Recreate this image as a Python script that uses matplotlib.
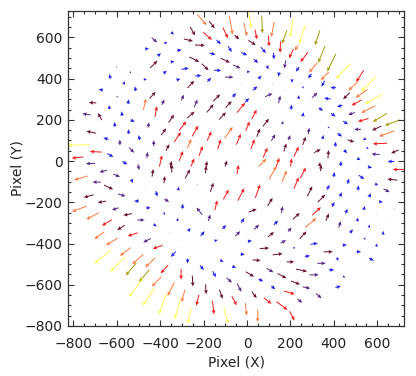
import numpy as np
import matplotlib
matplotlib.use('Agg')
import matplotlib.pyplot as plt
from matplotlib.ticker import MultipleLocator

# arrow centres (pixels), displacement (pixels) and colour class
# colour class: 0 blue, 1 purple, 2 maroon, 3 red, 4 orange, 5 yellow, 6 olive
x = [-343, -427, -374, -461, -312, -404, -430, -343, -377, -600, -538, -632, -469, -566, -515, -674, -435, -472, -597, -547,
     -387, -297, -712, -635, -420, -349, -740, -678, -577, -527, -454, -610, -384, -320, -718, -546, -497, -650, -430, -586,
     -366, -777, -532, -630, -460, -304, -697, -398, -781, -351, -721, -563,
     -208, -162, -74, -251, -100, -182, -8, 13, 69, 41, 118, 205, -47, -270, -131, 23, 100, 172, 153, -217,
     -79, 75, -13, -159, 203, 123, -243, -100, 41, -193, -285, -47, 95, 175, -136, 7, 146, -225, -316, -174,
     -82, -28, 60, 118, 207, -259, 37, 175, -236, -140, -59, 100, 149, 0, -170, -85, -28, 33, 87, 164,
     -259, -113, -297, -239, -174, -85, 3, 52, 195, -266, -213, -128, -39, 26, 84, 121, 175, -251, -187, -97,
     -5, 72, 141, 203,
     254, 227, 324, 263, 343, 389, 304, 232, 443, 358, 289, 350, 520, 397, 489, 558, 258, 312, 370, 458,
     527, 581, 238, 204, 289, 340, 427, 504, 558, 481, 258, 397, 535, 612, 669, 454, 377, 284, 509, 597,
     643, 350, 427, 478, 540, 612, 263, 407, 324, 374, 454, 515, 555, 592, 681, 227, 663, 335, 432,
     -500, -435, -347, -766, -663, -601, -693, -530, -381, -638, -469, -417, -730, -669, -577, -509, -370, -454, -773, -607,
     -712, -550, -489, -423, -381, -646, -581, -527, -358, -681, -461, -623, -412, -340, -666, -561, -504, -597, -447, -381,
     -535, -474, -304, -417, -351, -512, -454, -389, -320,
     -274, -190, -43, 118, 172, -316, -228, -162, -97, -28, 49, -143, -220, -297, 106, 26, 161, -320, -174, -20,
     44, 133, -266, -205, -105, -43, 110, 167, -143, 13, -300, 80, 141, -20, 44, -274, -116, -208, -59, 106,
     13, 161, -151, -82, 64, -251, -36, 121, -190, -120, 33, 195, -294, -228, -59, 95, 161, -156, -5, 49,
     -266, -97,
     227, 258, 340, 566, 697, 669, 527, 597, 643, 466, 401, 512, 289, 374, 432, 566, 617, 343, 681, 397,
     320, 458, 540, 227, 294, 370, 509, 597, 427, 563, 658, 197, 258, 481, 627, 309, 450, 543, 597, 217,
     374, 515, 278, 417, 573, 200, 343, 251, 389, 309, 447, 350, 223, 274, 420, 330, 243, 207]
y = [619, 587, 574, 545, 538, 517, 469, 482, 432, 456, 432, 411, 396, 380, 351, 346, 320, 275, 312, 288,
     286, 308, 283, 262, 240, 206, 227, 216, 230, 195, 175, 178, 143, 117, 140, 143, 114, 109, 87, 91,
     66, 78, 53, 28, 30, 25, 45, 1, 17, -15, -12, -9,
     685, 661, 658, 630, 622, 606, 638, 685, 662, 614, 638, 645, 601, 587, 577, 574, 582, 601, 553, 562,
     543, 538, 520, 520, 520, 509, 493, 488, 485, 456, 448, 458, 453, 469, 440, 433, 420, 414, 396, 395,
     407, 378, 407, 372, 388, 372, 353, 343, 280, 307, 320, 320, 299, 295, 256, 275, 259, 227, 187, 187,
     224, 219, 170, 146, 122, 138, 170, 138, 114, 85, 49, 82, 106, 82, 41, 114, 66, -7, -15, -12,
     0, -7, -7, -7,
     614, 549, 598, 504, 517, 477, 453, 445, 436, 412, 412, 375, 412, 356, 364, 372, 359, 320, 303, 316,
     327, 299, 311, 262, 283, 251, 267, 283, 251, 230, 227, 224, 199, 211, 186, 186, 162, 146, 154, 159,
     133, 117, 127, 98, 106, 85, 98, 82, 49, 33, 46, 9, 62, 33, 46, 46, -2, -15, -12,
     -30, -57, -36, -82, -49, -70, -102, -98, -90, -127, -143, -159, -170, -198, -165, -194, -191, -227, -232, -232,
     -267, -259, -286, -312, -256, -299, -323, -356, -348, -361, -385, -391, -417, -452, -465, -440, -477, -501, -493, -525,
     -525, -557, -549, -585, -622, -614, -659, -694, -719,
     -62, -41, -41, -57, -73, -133, -114, -127, -162, -162, -146, -214, -243, -219, -198, -240, -235, -283, -275, -288,
     -320, -299, -332, -352, -320, -352, -356, -391, -385, -388, -385, -423, -452, -452, -481, -485, -485, -517, -514, -530,
     -549, -557, -549, -578, -578, -582, -614, -614, -622, -646, -649, -638, -654, -675, -678, -678, -702, -711, -719, -751,
     -751, -751,
     -106, -57, -33, -30, -41, -90, -78, -114, -143, -98, -65, -130, -146, -127, -162, -165, -198, -181, -231, -210,
     -243, -243, -227, -267, -299, -272, -283, -262, -307, -315, -294, -332, -359, -340, -348, -401, -407, -375, -407, -420,
     -440, -440, -461, -477, -477, -489, -496, -530, -528, -552, -562, -590, -590, -614, -610, -654, -678, -751]
u = [12, 25, 14, 18, 22, 15, 34, 18, 15, 6, 0, -5, 15, 6, -5, -20, 28, 12, 8, 3,
     12, 12, -34, -3, 9, 25, -38, -17, -3, 20, 5, -3, 22, 31, -45, -2, -5, -25, 0, 0,
     15, -100, 23, 28, 3, 18, -55, 12, -54, 6, -43, 23,
     42, 25, 15, 23, 23, 40, 15, 12, 3, 9, -14, -15, 22, 42, 20, 34, 3, -22, -2, 46,
     17, 23, 28, 28, -20, 3, 46, 42, 20, 31, 34, 34, 6, -8, 34, 15, -5, 29, 18, 18,
     38, 3, 14, 3, 0, 31, 22, 3, 15, 32, 15, 34, 9, 20, 31, 28, 38, 22, 28, 6,
     34, 31, 34, 28, 20, 37, 18, 15, 8, 18, 18, 15, 20, 18, 20, 18, 12, 15, 6, 9,
     2, 34, 15, 5,
     -28, -18, -23, -35, -31, -40, -38, -15, -69, -38, -15, -15, -35, -26, -46, -66, 5, 25, -31, -31,
     -54, -77, 3, 5, 3, 20, -26, -46, -65, -31, 3, 22, -49, -66, -69, 23, 8, 5, -31, -43,
     -71, 5, 22, 31, -15, -66, 14, 3, 31, 3, 15, 15, 10, -38, -35, 22, -31, 3, 3,
     6, 6, 0, -62, -35, 31, -38, 6, 5, 42, 2, 8, -46, -38, 34, -23, 22, 20, -68, -31,
     -58, -40, 34, 14, 5, -46, -35, -46, 3, -46, -35, -54, -46, -23, -77, -51, -52, -66, -46, -35,
     -49, -48, 0, -45, -31, -65, -54, -35, -28,
     23, 5, 8, 35, 22, 3, 3, 14, 25, 30, 22, 11, -26, 3, 23, 37, 6, 3, 8, 15,
     23, 20, 11, 18, 18, 23, 28, 25, 15, 20, 3, 43, 46, 20, 37, 0, 15, 18, 18, 31,
     38, 42, 15, 25, 22, 3, 20, 18, 3, 15, 22, 50, -15, -12, 23, 35, 51, 8, 6, 0,
     -15, 20,
     22, 26, 3, 20, -51, -46, 26, 15, 28, 6, 5, 3, 22, 12, 11, 8, 18, 34, 3, 11,
     40, 9, 5, 31, 51, 14, 3, 2, 9, 3, 2, 15, 31, 15, 3, 34, 20, 8, 3, 8,
     42, 20, 25, 6, 23, 35, 38, 51, 25, 42, 10, 2, 42, 35, 25, 26, 23, 23]
v = [-13, -23, 6, 3, 3, 13, 35, 3, 13, 0, 10, 23, 0, 16, 23, 5, 32, 56, 3, 23,
     26, 28, 2, 19, 52, 39, 6, 35, 23, -10, 26, 23, 32, 48, 10, 23, 24, 8, 29, 26,
     32, -3, -26, -16, 29, 48, 3, 55, -6, 32, -2, -16,
     -52, -35, -89, -42, -52, -37, -65, -84, -85, -48, -73, -90, -21, -10, -21, -23, -53, -65, -56, -2,
     -29, -29, -13, -8, -44, -32, -24, -21, -19, -32, 6, -16, -18, -40, -2, 0, -21, 3, 5, 19,
     0, 0, 15, 0, -18, 35, 19, 0, 37, 34, 21, 16, 37, 21, 40, 32, 48, 45, 37, 15,
     32, 35, 45, 52, 45, 56, 45, 40, 24, 44, 48, 48, 52, 48, 48, 32, 39, 40, 30, 30,
     0, 37, 45, 40,
     -90, -26, -73, -48, -81, -85, -48, -23, -73, -40, -23, -29, -56, 0, -45, -69, 10, 24, 5, -32,
     -40, -45, 18, 24, 0, -16, -8, -27, -34, -11, 21, -16, -15, -42, -27, -16, -6, 32, 0, -21,
     -27, 19, -16, -11, -5, -3, 40, 24, 16, 40, -16, -10, -8, 3, -16, 48, 0, 20, 24,
     -29, 37, 40, -19, -10, -13, 0, -19, 35, -21, 0, -27, -13, -8, -11, 0, -13, 0, -27, -11,
     -32, -8, 0, -11, -12, -29, -24, -16, 0, -35, -19, -35, -16, -26, -65, -40, -48, -73, -45, -40,
     -60, -60, -52, -48, -65, -89, -85, -100, -97,
     44, 37, 45, 65, 55, 18, 3, 44, 48, 60, 65, 48, 35, 24, 40, 15, 32, 15, 32, 24,
     24, 21, 16, 24, 19, 24, 24, 15, 5, 3, 0, 3, 6, 0, -3, -24, -10, -23, -6, -19,
     -24, -23, -29, -23, -11, -53, -40, -16, -48, -44, -32, -16, -60, -53, -44, -29, -40, -65, -60, -60,
     -77, -74,
     55, 52, 32, -5, 0, 5, -19, -8, -16, 26, 24, 24, 48, 24, 21, 19, -3, 37, 3, 24,
     39, 24, 19, 31, 45, 35, 18, 2, 32, 15, 2, 20, 35, 18, 18, 6, 3, 8, 16, 8,
     0, 0, 3, -16, -11, 0, 0, -11, 0, 0, -8, 2, -16, -8, 8, -23, -19, -45]
level = [0, 1, 0, 0, 0, 0, 2, 0, 0, 2, 1, 0, 0, 0, 0, 0, 2, 4, 1, 0,
         1, 1, 2, 0, 3, 2, 1, 2, 0, 0, 1, 0, 2, 3, 2, 0, 0, 0, 1, 1,
         2, 5, 1, 0, 1, 3, 3, 3, 3, 2, 1, 0,
         4, 2, 4, 2, 3, 3, 4, 5, 6, 3, 4, 5, 2, 2, 0, 2, 3, 6, 3, 2,
         0, 0, 0, 0, 3, 0, 2, 2, 0, 2, 0, 1, 0, 1, 0, 0, 0, 0, 0, 0,
         1, 2, 0, 2, 0, 2, 0, 2, 1, 2, 0, 1, 1, 0, 2, 2, 3, 3, 2, 1,
         2, 2, 3, 3, 3, 4, 3, 2, 1, 4, 3, 3, 3, 3, 3, 1, 2, 3, 2, 2,
         0, 4, 3, 3,
         5, 4, 6, 3, 6, 6, 4, 0, 5, 4, 0, 0, 3, 0, 4, 5, 0, 1, 0, 2,
         4, 5, 0, 0, 0, 0, 0, 3, 4, 1, 0, 0, 3, 6, 6, 0, 0, 1, 1, 2,
         4, 0, 0, 2, 0, 3, 2, 0, 2, 2, 0, 0, 0, 1, 2, 3, 0, 2, 0,
         1, 2, 2, 4, 1, 1, 1, 0, 2, 2, 2, 0, 2, 2, 1, 0, 1, 0, 4, 1,
         4, 2, 1, 0, 0, 3, 2, 3, 2, 4, 1, 4, 3, 0, 5, 4, 4, 5, 4, 3,
         6, 6, 3, 4, 4, 5, 5, 5, 5,
         2, 2, 3, 4, 4, 0, 0, 2, 3, 3, 3, 3, 1, 0, 2, 2, 1, 0, 1, 0,
         1, 0, 0, 0, 0, 1, 2, 1, 0, 0, 0, 2, 2, 0, 2, 0, 0, 0, 0, 1,
         2, 2, 0, 1, 0, 2, 1, 0, 2, 2, 2, 3, 4, 3, 3, 3, 3, 3, 4, 4,
         5, 5,
         3, 3, 2, 0, 3, 2, 0, 0, 1, 0, 0, 0, 2, 0, 0, 0, 0, 2, 0, 0,
         3, 0, 0, 2, 4, 2, 0, 0, 1, 0, 0, 1, 2, 0, 0, 0, 0, 0, 0, 0,
         2, 0, 0, 0, 0, 2, 1, 2, 0, 1, 0, 0, 2, 1, 0, 1, 1, 3]

palette = ['#2323e6', '#5a2888', '#6a1232', '#f02020', '#ff7f45', '#ffff55', '#aa9c10']

fig = plt.figure(figsize=(4.16, 3.76), dpi=100)
ax = fig.add_axes([0.1635, 0.133, 0.8077, 0.8378])

cols = [palette[k] for k in level]
ax.quiver(x, y, u, v, color=cols, angles='xy', scale_units='xy', scale=1,
          pivot='middle', width=0.003, headwidth=3.8, headlength=4.2,
          headaxislength=3.7, minlength=0.5)

ax.set_xlim(-825, 723)
ax.set_ylim(-800, 728)
ax.xaxis.set_major_locator(MultipleLocator(200))
ax.xaxis.set_minor_locator(MultipleLocator(50))
ax.yaxis.set_major_locator(MultipleLocator(200))
ax.yaxis.set_minor_locator(MultipleLocator(50))
ax.tick_params(which='both', direction='in', top=True, right=True, color='#333333', width=0.8)
ax.tick_params(which='major', length=4.5)
ax.tick_params(which='minor', length=2.5)
ax.tick_params(axis='x', pad=8, labelsize=10, labelcolor='#222222')
ax.tick_params(axis='y', pad=4, labelsize=10, labelcolor='#222222')
for s in ax.spines.values():
    s.set_linewidth(0.9)
    s.set_color('#333333')

ax.set_xlabel('Pixel (X)', fontsize=10, color='#222222', labelpad=3)
ax.set_ylabel('Pixel (Y)', fontsize=10, color='#222222', labelpad=0)

fig.savefig('out.png', dpi=100)
